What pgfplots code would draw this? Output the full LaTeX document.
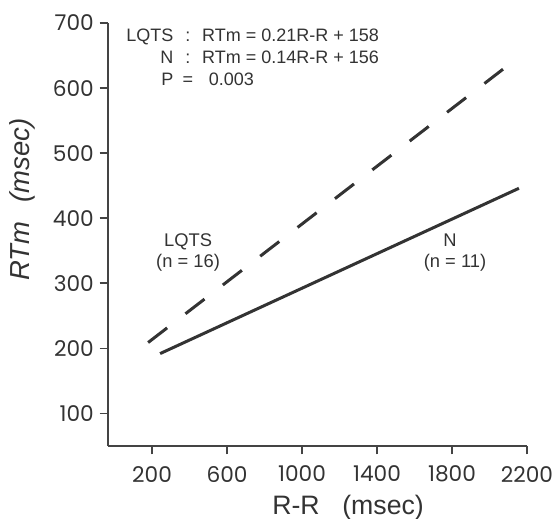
\documentclass[border=0pt]{standalone}
\usepackage{fontspec}
\setmainfont{Liberation Sans}
\newfontfamily\tickfont{Poppins}
\usepackage{pgfplots}
\pgfplotsset{compat=1.18}
\definecolor{ink}{HTML}{333333}
\definecolor{axisgray}{HTML}{444444}

\begin{document}
\begin{tikzpicture}
% page size = reference proportions (1px = 0.6pt), origin at the axis corner
\useasboundingbox (-64.8pt,-43.8pt) rectangle (268.2pt,267.6pt);
\begin{axis}[
    at={(0,0)}, anchor=south west,
    scale only axis,
    width=251.4pt, height=253.8pt,
    xmin=-35, xmax=2200,
    ymin=50, ymax=700,
    axis lines=left,
    axis line style={-, line width=1.2pt, color=axisgray},
    xtick={200,600,1000,1400,1800,2200},
    ytick={100,200,300,400,500,600,700},
    tick align=outside,
    major tick length=5pt,
    tick style={line width=1pt, color=axisgray},
    /pgf/number format/assume math mode=true,
    /pgf/number format/1000 sep={},
    ticklabel style={font=\fontsize{13}{15}\tickfont, text=ink},
    xticklabel style={yshift=-3.5pt},
    xlabel={R-R\hspace{0.85em}(msec)},
    xlabel style={at={(axis description cs:0.573,-0.161)}, anchor=base,
        font=\fontsize{16}{18}\selectfont, text=ink},
    ylabel={\itshape RTm\hspace{0.7em}(msec)},
    ylabel style={at={(axis description cs:-0.205,0.582)}, anchor=center,
        rotate=0, font=\fontsize{16.5}{19}\selectfont, text=ink},
    clip=false,
]
% N (solid)
\addplot[ink, line width=1.8pt] coordinates {(243,192) (2157,446)};
% LQTS (dashed)
\addplot[ink, line width=1.8pt, dash pattern=on 14.4pt off 13.9pt] coordinates {(179,209) (2072,629)};

\node[anchor=base west, inner sep=0pt, text=ink, font=\fontsize{10.8}{13.2}\selectfont]
    at (axis cs:61,671) {\begin{tabular}[t]{@{}r@{\hspace{5.5pt}}c@{\hspace{5.5pt}}l@{}}
    LQTS & : & RTm = 0.21R-R + 158\\
    N & : & RTm = 0.14R-R + 156\\
    P & = & \hspace{4pt}0.003
    \end{tabular}};

\node[text=ink, font=\fontsize{11}{13}\selectfont] at (axis cs:392,363) {LQTS};
\node[text=ink, font=\fontsize{11}{13}\selectfont] at (axis cs:392,331) {(n = 16)};
\node[text=ink, font=\fontsize{11}{13}\selectfont] at (axis cs:1789,366) {N};
\node[text=ink, font=\fontsize{11}{13}\selectfont] at (axis cs:1816,331) {(n = 11)};
\end{axis}
\end{tikzpicture}
\end{document}
